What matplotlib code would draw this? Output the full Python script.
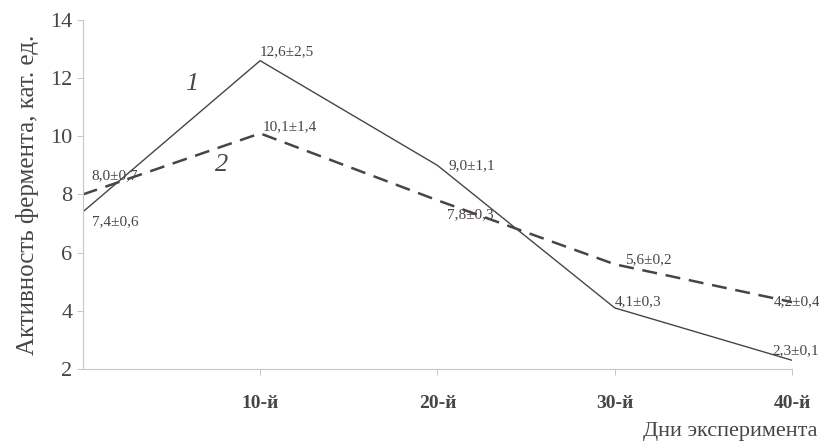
import numpy as np
import matplotlib.pyplot as plt

days = [0, 10, 20, 30, 40]
tick_days = [10, 20, 30, 40]
tick_labels = ["10-й", "20-й", "30-й", "40-й"]
line1 = [7.4, 12.6, 9.0, 4.1, 2.3]
line2 = [8.0, 10.1, 7.8, 5.6, 4.3]
labels1 = ["7,4±0,6", "12,6±2,5", "9,0±1,1", "4,1±0,3", "2,3±0,1"]
labels2 = ["8,0±0,7", "10,1±1,4", "7,8±0,3", "5,6±0,2", "4,2±0,4"]

plt.rcParams['font.family'] = ['Liberation Serif', 'DejaVu Serif']
ink = '#4a4444'

fig = plt.figure(figsize=(8.2, 4.43), dpi=100)
ax = fig.add_axes([0.101, 0.167, 0.865, 0.788])

ax.plot(days, line1, color=ink, lw=1.0)
ax.plot(days, line2, color=ink, lw=1.8, dashes=(6, 3.5))

# label offsets in pixels (dx, dy, va)
off1 = [(9, -3, 'top'), (0, 2, 'bottom'), (11, 0, 'center'), (0, 0, 'bottom'), (-20, 3, 'bottom')]
off2 = [(9, 12, 'bottom'), (3, 0, 'bottom'), (10, -8, 'top'), (10, -2, 'bottom'), (-18, -6, 'bottom')]
for x, y, s, o in zip(days, line1, labels1, off1):
    ax.annotate(s, (x, y), xytext=o[:2], textcoords='offset pixels',
                fontsize=11, color=ink, ha='left', va=o[2])
for x, y, s, o in zip(days, line2, labels2, off2):
    ax.annotate(s, (x, y), xytext=o[:2], textcoords='offset pixels',
                fontsize=11, color=ink, ha='left', va=o[2])

ax.text(5.76, 11.6, "1", fontsize=19, style='italic', color=ink, va='baseline')
ax.text(7.45, 8.8, "2", fontsize=19, style='italic', color=ink, va='baseline')

ax.set_xlim(0, 40)
ax.set_ylim(2, 14)
ax.set_yticks(np.arange(2, 15, 2))
ax.set_xticks(tick_days)
ax.set_xticklabels(tick_labels, fontsize=14, fontweight='bold')
ax.tick_params(axis='y', labelsize=16, colors='#bbbbbb', labelcolor=ink, length=4, width=0.6)
ax.tick_params(axis='x', colors='#bbbbbb', labelcolor=ink, length=4, width=0.6, pad=15)

for s in ['top', 'right']:
    ax.spines[s].set_visible(False)
for s in ['left', 'bottom']:
    ax.spines[s].set_color('#c8c8c8')
    ax.spines[s].set_linewidth(0.8)

ax.set_ylabel("Активность фермента, кат. ед.", fontsize=18, color=ink, labelpad=8)
fig.text(0.997, 0.005, "Дни эксперимента", fontsize=16, color=ink, ha='right', va='bottom')

fig.savefig("out.png", dpi=100)
